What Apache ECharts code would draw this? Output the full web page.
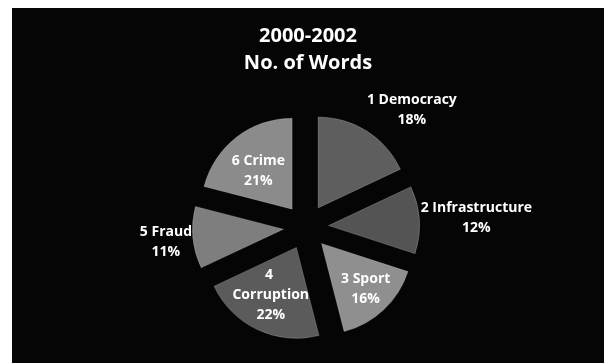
<!DOCTYPE html>
<html>
<head>
<meta charset="utf-8">
<script src="https://cdn.jsdelivr.net/npm/echarts@6/dist/echarts.min.js"></script>
<style>
  html, body { margin: 0; padding: 0; background: #ffffff; }
  body { width: 608px; height: 363px; position: relative; overflow: hidden; }
  #chart { position: absolute; left: 12px; top: 8px; width: 592px; height: 355px; background: #050505; }
</style>
</head>
<body>
<div id="chart"></div>
<script>
// Share of words per topic, 2000-2002
const categories = ['1 Democracy', '2 Infrastructure', '3 Sport', '4 Corruption', '5 Fraud', '6 Crime'];
const shares = [18, 12, 16, 22, 11, 21];

// Slice fills (grey shades) and label placement per slice
const sliceColors = ['#5e5e5e', '#545454', '#8f8f8f', '#5b5b5b', '#7e7e7e', '#8b8b8b'];
const labelInside = [false, false, true, true, false, true];
const labelNudge = [[40, -21], [52, -2], [11, 10], [-5, 4], [-22, 4], [-4, 0]];

const chart = echarts.init(document.getElementById('chart'), null, { renderer: 'canvas' });

const data = categories.map((name, i) => ({
  name: name,
  value: shares[i],
  selected: true,
  itemStyle: { color: sliceColors[i] },
  label: Object.assign(
    { position: labelInside[i] ? 'inside' : 'outside' },
    name === '4 Corruption' ? { width: 80, overflow: 'break' } : {}
  ),
  labelLine: { show: false, length: 0, length2: 0 }
}));

chart.setOption({
  backgroundColor: 'transparent',
  animation: false,
  title: {
    text: '2000-2002\nNo. of Words',
    left: 'center',
    top: 10,
    textStyle: {
      color: '#ffffff',
      fontFamily: 'Open Sans',
      fontWeight: 'bold',
      fontSize: 20,
      lineHeight: 27
    }
  },
  series: [{
    type: 'pie',
    center: [294, 219],
    radius: 91,
    startAngle: 90,
    clockwise: true,
    selectedMode: 'multiple',
    selectedOffset: 22.6,
    avoidLabelOverlap: false,
    percentPrecision: 0,
    emphasis: { disabled: true },
    itemStyle: {
      borderColor: 'rgba(255,255,255,0.18)',
      borderWidth: 1
    },
    label: {
      formatter: '{b}\n{d}%',
      color: '#ffffff',
      fontFamily: 'Open Sans',
      fontWeight: 'bold',
      fontSize: 14,
      lineHeight: 20,
      distanceToLabelLine: 5
    },
    labelLayout: function (params) {
      const n = labelNudge[params.dataIndex];
      return { dx: n[0], dy: n[1], align: 'center' };
    },
    data: data
  }]
});
</script>
</body>
</html>
